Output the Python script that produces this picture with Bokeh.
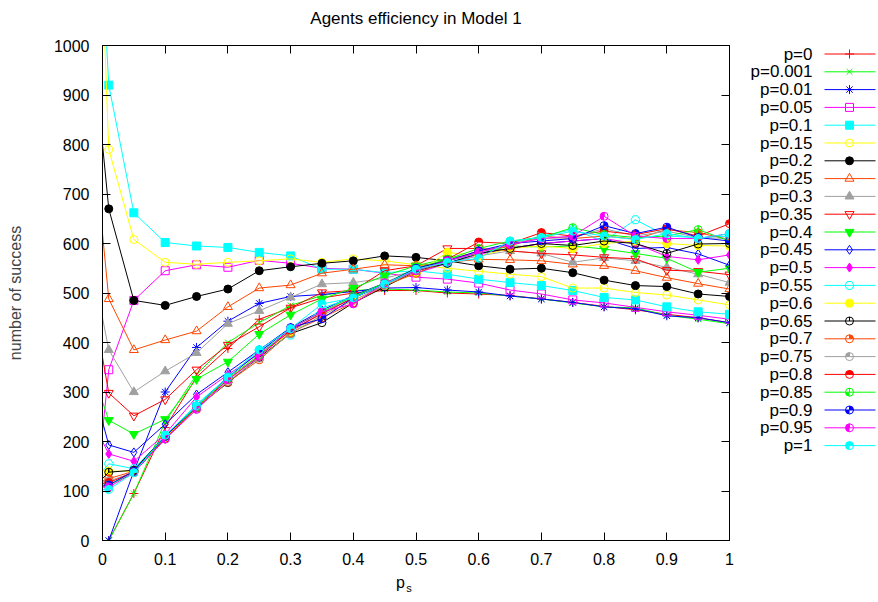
import math
from bokeh.plotting import figure
from bokeh.models import Range1d, FixedTicker, LinearAxis
from bokeh.layouts import row, column
from bokeh.embed import file_html
from bokeh.resources import INLINE
from bokeh.core.properties import value

# ---------------- data ----------------
ps = [0, 0.01, 0.05, 0.1, 0.15, 0.2, 0.25, 0.3, 0.35, 0.4, 0.45, 0.5,
      0.55, 0.6, 0.65, 0.7, 0.75, 0.8, 0.85, 0.9, 0.95, 1.0]

labels = ["p=0", "p=0.001", "p=0.01", "p=0.05", "p=0.1", "p=0.15", "p=0.2",
          "p=0.25", "p=0.3", "p=0.35", "p=0.4", "p=0.45", "p=0.5", "p=0.55",
          "p=0.6", "p=0.65", "p=0.7", "p=0.75", "p=0.8", "p=0.85", "p=0.9",
          "p=0.95", "p=1"]

s_p0    = [0, 0, 95, 228, 330, 388, 447, 470, 490, 500, 505, 505, 500, 498, 495, 488, 481, 473, 466, 457, 450, 440]
s_p0001 = [0, 0, 95, 240, 335, 400, 440, 475, 495, 505, 508, 506, 502, 500, 494, 488, 480, 472, 470, 455, 447, 438]
s_p001  = [0, 0, 140, 300, 390, 443, 479, 493, 497, 503, 510, 511, 506, 502, 494, 488, 481, 472, 468, 454, 450, 440]
s_p005  = [220, 345, 485, 545, 557, 552, 566, 560, 550, 548, 540, 532, 528, 520, 506, 498, 486, 480, 471, 462, 455, 447]
s_p01   = [1160, 920, 662, 602, 595, 592, 582, 575, 548, 548, 541, 545, 538, 528, 521, 515, 505, 491, 486, 472, 462, 457]
s_p015  = [1130, 790, 608, 562, 558, 562, 565, 569, 562, 569, 565, 557, 550, 544, 538, 533, 510, 510, 501, 496, 486, 476]
s_p02   = [800, 670, 485, 475, 493, 508, 545, 553, 560, 565, 575, 572, 565, 555, 548, 550, 541, 526, 515, 513, 498, 493]
s_p025  = [620, 488, 385, 405, 423, 472, 510, 516, 540, 548, 557, 555, 562, 568, 567, 565, 558, 555, 545, 531, 519, 508]
s_p03   = [450, 385, 300, 342, 379, 438, 464, 491, 518, 521, 530, 545, 560, 575, 585, 580, 562, 571, 565, 552, 538, 521]
s_p035  = [370, 298, 252, 285, 345, 395, 432, 470, 501, 505, 545, 555, 590, 590, 585, 580, 577, 572, 569, 546, 544, 537]
s_p04   = [280, 243, 215, 245, 326, 361, 417, 456, 488, 510, 535, 555, 570, 580, 595, 593, 595, 589, 580, 570, 542, 550]
s_p045  = [240, 193, 178, 235, 295, 340, 385, 430, 465, 495, 520, 545, 565, 580, 590, 600, 605, 610, 590, 592, 579, 556]
s_p05   = [200, 175, 160, 215, 290, 335, 378, 422, 460, 490, 520, 540, 560, 578, 590, 600, 605, 610, 600, 574, 567, 577]
s_p055  = [140, 155, 145, 210, 275, 330, 385, 415, 470, 490, 515, 545, 560, 580, 600, 615, 628, 605, 648, 615, 612, 615]
s_p06   = [130, 140, 140, 208, 270, 325, 375, 420, 455, 485, 515, 540, 582, 575, 590, 595, 590, 600, 605, 600, 596, 595]
s_p065  = [125, 138, 142, 212, 268, 319, 370, 418, 440, 480, 512, 545, 560, 580, 590, 600, 596, 605, 600, 580, 599, 600]
s_p07   = [120, 125, 140, 205, 268, 320, 365, 420, 450, 480, 515, 540, 565, 585, 595, 615, 610, 615, 609, 628, 622, 608]
s_p075  = [118, 120, 138, 205, 265, 322, 368, 418, 455, 485, 515, 545, 565, 580, 600, 610, 612, 630, 615, 625, 612, 610]
s_p08   = [115, 117, 138, 206, 270, 325, 372, 425, 458, 490, 518, 548, 568, 603, 600, 622, 615, 625, 618, 630, 615, 640]
s_p085  = [112, 112, 137, 210, 270, 328, 375, 428, 462, 493, 520, 550, 568, 590, 605, 612, 632, 618, 612, 615, 628, 605]
s_p09   = [110, 112, 140, 210, 272, 330, 380, 430, 448, 490, 518, 550, 565, 585, 600, 605, 610, 636, 620, 633, 612, 605]
s_p095  = [108, 108, 137, 205, 265, 325, 372, 428, 462, 478, 520, 545, 565, 582, 598, 610, 615, 655, 615, 610, 610, 620]
s_p1    = [103, 103, 137, 213, 272, 330, 385, 428, 478, 490, 518, 548, 562, 570, 605, 612, 625, 615, 608, 620, 610, 620]

series = [s_p0, s_p0001, s_p001, s_p005, s_p01, s_p015, s_p02, s_p025, s_p03,
          s_p035, s_p04, s_p045, s_p05, s_p055, s_p06, s_p065, s_p07, s_p075,
          s_p08, s_p085, s_p09, s_p095, s_p1]

x_ticks = [0, 0.1, 0.2, 0.3, 0.4, 0.5, 0.6, 0.7, 0.8, 0.9, 1]
x_tick_labels = ["0", "0.1", "0.2", "0.3", "0.4", "0.5", "0.6", "0.7", "0.8", "0.9", "1"]
y_ticks = [0, 100, 200, 300, 400, 500, 600, 700, 800, 900, 1000]

title_text = "Agents efficiency in Model 1"
y_label_text = "number of success"
x_label_main = "p"
x_label_sub = "s"

# ---------------- styles ----------------
palette = ["#ff0000", "#00ff00", "#0000ff", "#ff00ff", "#00ffff",
           "#ffff00", "#000000", "#ff4500", "#a0a0a0"]
marker_kind = ["cross", "x", "asterisk", "square", "square", "circle", "circle",
               "triangle", "triangle", "inverted_triangle", "inverted_triangle",
               "diamond", "diamond", "hex", "hex"] + ["circle"] * 8
marker_fill = [False, False, False, False, True, False, True, False, True,
               False, True, False, True, False, True] + [False] * 8
marker_size = [9, 8, 9, 8, 8, 8, 8, 9, 9, 9, 9, 9, 9, 9, 9] + [8] * 8
# quadrant fills (degrees) for circle point types 16..23
wedge_sets = [[]] * 15 + [[], [(0, 90)], [(90, 180)], [(0, 180)], [(180, 270)],
                          [(0, 90), (180, 270)], [(90, 270)], [(0, 270)]]
# circle types carry a radial stroke from the centre to the top
radial_tick = [False] * 15 + [True] * 8

FONT = "Liberation Sans"

TITLE_H = 30
LEFT, FRAME_W, RIGHT = 102, 627, 8
TOP, FRAME_H, BOTTOM = 15, 495, 33
MAIN_W = LEFT + FRAME_W + RIGHT
MAIN_H = TOP + FRAME_H + BOTTOM
LEG_W = 140
STRIP_H = 27
FULL_W = MAIN_W + LEG_W
FRAME_TOP_PAGE = TITLE_H + TOP


def draw_points(fig, xs, ys, i):
    c = palette[i % len(palette)]
    kw = dict(marker=marker_kind[i], size=marker_size[i], line_color=c, line_width=1)
    kw["fill_color"] = c if marker_fill[i] else None
    fig.scatter(xs, ys, **kw)
    for (a0, a1) in wedge_sets[i]:
        fig.wedge(xs, ys, radius=4, radius_units="screen",
                  start_angle=math.radians(a0), end_angle=math.radians(a1),
                  fill_color=c, line_color=None)
    if radial_tick[i]:
        fig.wedge(xs, ys, radius=4, radius_units="screen",
                  start_angle=math.radians(89.8), end_angle=math.radians(90.2),
                  fill_color=None, line_color=c, line_width=1)


def blank_fig(w, h, xr, yr):
    f = figure(width=w, height=h, x_range=xr, y_range=yr,
               output_backend="svg", toolbar_location=None, min_border=0,
               x_axis_location=None, y_axis_location=None,
               background_fill_color="white", border_fill_color="white")
    f.outline_line_color = None
    f.xgrid.grid_line_color = None
    f.ygrid.grid_line_color = None
    return f


# ---------------- title strip ----------------
top_strip = blank_fig(FULL_W, TITLE_H, Range1d(0, FULL_W), Range1d(TITLE_H, 0))
top_strip.text(x=[LEFT + FRAME_W / 2], y=[18], text=[title_text], text_align="center",
               text_baseline="middle", text_font=value(FONT), text_font_size="17px",
               text_color="black")

# ---------------- main plot ----------------
p = figure(frame_width=FRAME_W, frame_height=FRAME_H,
           x_range=Range1d(0, 1), y_range=Range1d(0, 1000),
           output_backend="svg", toolbar_location=None,
           min_border_left=LEFT, min_border_right=RIGHT, min_border_top=TOP,
           min_border_bottom=BOTTOM, background_fill_color="white",
           border_fill_color="white")
p.outline_line_color = "black"
p.xgrid.grid_line_color = None
p.ygrid.grid_line_color = None

for ax in (p.xaxis[0], p.yaxis[0]):
    ax.major_tick_in = 8
    ax.major_tick_out = 0
    ax.minor_tick_line_color = None
    ax.axis_line_color = "black"
    ax.major_tick_line_color = "black"
    ax.major_label_text_font = FONT
    ax.major_label_text_font_size = "16px"
    ax.major_label_text_color = "black"

p.xaxis[0].ticker = FixedTicker(ticks=x_ticks)
p.xaxis[0].major_label_overrides = dict(zip(x_ticks, x_tick_labels))
p.xaxis[0].major_label_standoff = 12
p.yaxis[0].ticker = FixedTicker(ticks=y_ticks)
p.yaxis[0].major_label_standoff = 13
p.yaxis[0].axis_label = y_label_text
p.yaxis[0].axis_label_text_font = FONT
p.yaxis[0].axis_label_text_font_size = "16px"
p.yaxis[0].axis_label_text_font_style = "normal"
p.yaxis[0].axis_label_standoff = 27

right_ax = LinearAxis(ticker=FixedTicker(ticks=y_ticks), major_tick_in=8, major_tick_out=0,
                      minor_tick_line_color=None, major_label_text_color=None,
                      major_label_text_font_size="0px", major_label_standoff=0,
                      axis_line_color="black")
p.add_layout(right_ax, "right")
top_ax = LinearAxis(ticker=FixedTicker(ticks=x_ticks), major_tick_in=8, major_tick_out=0,
                    minor_tick_line_color=None, major_label_text_color=None,
                    major_label_text_font_size="0px", major_label_standoff=0,
                    axis_line_color="black")
p.add_layout(top_ax, "above")

for i, ys in enumerate(series):
    c = palette[i % len(palette)]
    p.line(ps, ys, line_color=c, line_width=1)
    px = [x for x, y in zip(ps, ys) if x > 0 and y <= 1000]
    py = [y for x, y in zip(ps, ys) if x > 0 and y <= 1000]
    draw_points(p, px, py, i)

# ---------------- legend (its frame lines up with the main frame) ----------------
leg = blank_fig(LEG_W, MAIN_H, Range1d(0, LEG_W),
                Range1d(FRAME_TOP_PAGE + FRAME_H, FRAME_TOP_PAGE))
row_y = [53.5 + 17.8 * k for k in range(len(labels))]
leg.text(x=[75] * len(labels), y=row_y, text=labels, text_align="right",
         text_baseline="middle", text_font=value(FONT), text_font_size="17px",
         text_color="black")
for i, yy in enumerate(row_y):
    c = palette[i % len(palette)]
    leg.line([87, 138], [yy, yy], line_color=c, line_width=1)
    draw_points(leg, [112], [yy], i)

# ---------------- x-axis label strip (p with subscript s) ----------------
strip = blank_fig(FULL_W, STRIP_H, Range1d(0, FULL_W), Range1d(STRIP_H, 0))
strip.text(x=[400], y=[9], text=[x_label_main], text_align="center",
           text_baseline="alphabetic", text_font=value(FONT), text_font_size="16px",
           text_color="black")
strip.text(x=[408.5], y=[14], text=[x_label_sub], text_align="center",
           text_baseline="alphabetic", text_font=value(FONT), text_font_size="11px",
           text_color="black")

layout = column(top_strip, row(p, leg), strip)
open("out.html", "w").write(file_html(layout, INLINE))
